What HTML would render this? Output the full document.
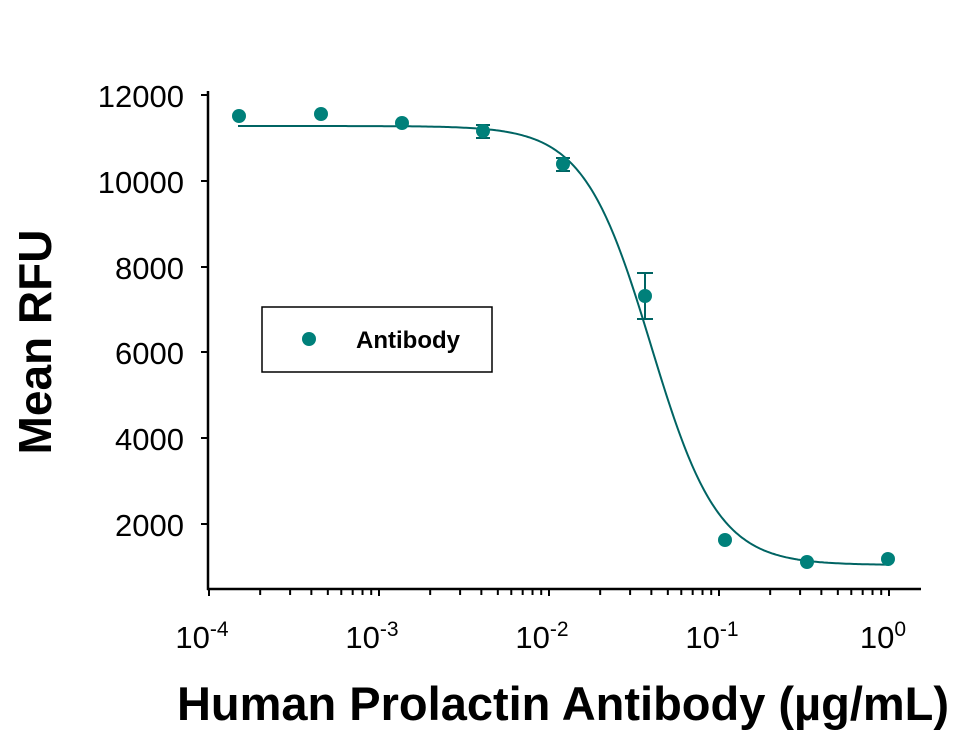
<!DOCTYPE html>
<html><head><meta charset="utf-8"><style>
body{margin:0;background:#fff}
svg{display:block;font-family:"Liberation Sans",Arial,sans-serif}
</style></head><body>
<svg id="s" width="967" height="737" xmlns="http://www.w3.org/2000/svg">
<g stroke="#000" stroke-width="2.5" fill="none">
<line x1="208" y1="91" x2="208" y2="590"/>
<line x1="207" y1="589" x2="921" y2="589"/>
</g>
<g id="ticks" stroke="#000" stroke-width="2"></g>
<g font-size="31" text-anchor="end" fill="#000">
<text x="184" y="107">12000</text>
<text x="184" y="193">10000</text>
<text x="184" y="279">8000</text>
<text x="184" y="364">6000</text>
<text x="184" y="450">4000</text>
<text x="184" y="536">2000</text>
</g>
<g font-size="31" fill="#000" text-anchor="middle">
<text x="202" y="648">10<tspan dy="-12" font-size="21">-4</tspan></text>
<text x="372" y="648">10<tspan dy="-12" font-size="21">-3</tspan></text>
<text x="542" y="648">10<tspan dy="-12" font-size="21">-2</tspan></text>
<text x="712" y="648">10<tspan dy="-12" font-size="21">-1</tspan></text>
<text x="883" y="648">10<tspan dy="-12" font-size="21">0</tspan></text>
</g>
<text x="563" y="720" font-size="47" font-weight="bold" text-anchor="middle">Human Prolactin Antibody (µg/mL)</text>
<text transform="translate(51,342) rotate(-90)" font-size="46" font-weight="bold" text-anchor="middle">Mean RFU</text>
<path id="curve" fill="none" stroke="#006463" stroke-width="2"/>
<g stroke="#006463" stroke-width="2">
<line x1="483" y1="125" x2="483" y2="138"/><line x1="476" y1="125" x2="490" y2="125"/><line x1="476" y1="138" x2="490" y2="138"/>
<line x1="563" y1="158" x2="563" y2="171"/><line x1="556" y1="158" x2="570" y2="158"/><line x1="556" y1="171" x2="570" y2="171"/>
<line x1="645" y1="273" x2="645" y2="319"/><line x1="637" y1="273" x2="653" y2="273"/><line x1="637" y1="319" x2="653" y2="319"/>
</g>
<g fill="#00807a">
<circle cx="239" cy="116" r="7"/><circle cx="321" cy="114" r="7"/><circle cx="402" cy="123" r="7"/>
<circle cx="483" cy="131" r="7"/><circle cx="563" cy="164" r="7"/><circle cx="645" cy="296" r="7"/>
<circle cx="725" cy="540" r="7"/><circle cx="807" cy="562" r="7"/><circle cx="888" cy="559" r="7"/>
</g>
<rect x="262" y="307" width="230" height="65" fill="none" stroke="#000" stroke-width="1.5"/>
<circle cx="309" cy="339" r="7" fill="#00807a"/>
<text x="356" y="348" font-size="24" font-weight="bold">Antibody</text>
</svg>
<script>
(function(){
var t=document.getElementById('ticks'),h='';
for(var d=0;d<5;d++){var x0=209+d*170;h+='<line x1="'+x0+'" y1="589" x2="'+x0+'" y2="596"/>';
if(d<4)for(var k=2;k<10;k++){var x=x0+170*Math.log10(k);h+='<line x1="'+x+'" y1="589" x2="'+x+'" y2="595"/>';}}
[95,181,267,352,438,524].forEach(function(y){h+='<line x1="201" y1="'+y+'" x2="208" y2="'+y+'"/>';});
t.innerHTML=h;
var p='',yt=126,yb=565,x50=651,hh=2.2;
for(var x=238;x<=888;x+=2){var r=Math.pow(10,hh*(x-x50)/170);var y=yb+(yt-yb)/(1+r);p+=(x==238?'M':'L')+x+' '+y.toFixed(1);}
document.getElementById('curve').setAttribute('d',p);
})();
</script>
</body></html>
